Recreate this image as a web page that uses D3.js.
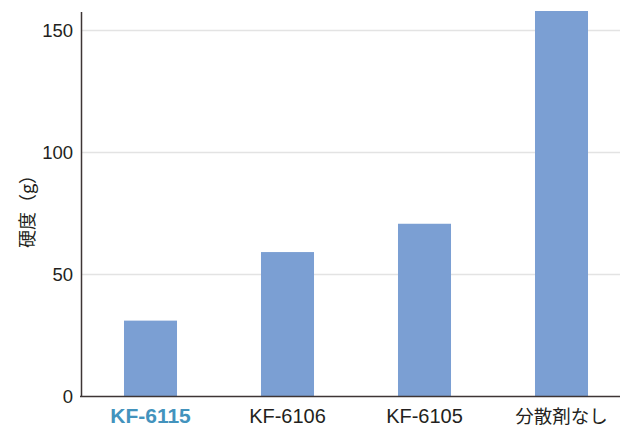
<!DOCTYPE html>
<html><head><meta charset="utf-8">
<script src="https://cdn.jsdelivr.net/npm/d3@7"></script>
<style>body{margin:0;background:#fff}svg{display:block}</style>
</head><body>
<script>
const categories = ["KF-6115", "KF-6106", "KF-6105", "分散剤なし"];
const values = [31.1, 59.2, 70.8, 158];
const yTicks = [0, 50, 100, 150];
const yLabel = "硬度（g）";

const W = 620, H = 427;
const svg = d3.select("body").append("svg").attr("width", W).attr("height", H);

const x = d3.scaleBand().domain(categories).range([82, 630]).paddingInner(0.613).paddingOuter(0.3065);
const y = d3.scaleLinear().domain([0, 158]).range([396.5, 11]);

// gridlines
svg.append("g").selectAll("line").data(yTicks.filter(d => d > 0)).join("line")
  .attr("x1", 81).attr("x2", W).attr("y1", d => y(d)).attr("y2", d => y(d))
  .attr("stroke", "#e3e3e3").attr("stroke-width", 1.5);

// bars
svg.append("g").selectAll("rect").data(values).join("rect")
  .attr("x", (d, i) => x(categories[i])).attr("width", x.bandwidth())
  .attr("y", d => y(d)).attr("height", d => y(0) - y(d))
  .attr("fill", "#7b9fd3");

// y axis
const ya = svg.append("g").attr("transform", "translate(81,0)")
  .call(d3.axisLeft(y).tickValues(yTicks).tickSize(0).tickPadding(8));
ya.select(".domain").attr("d", `M0.5,12V${y(0)}`).attr("stroke", "#3d3535").attr("stroke-width", 1.5);
ya.selectAll("text").attr("font-family", "Liberation Sans, Arial, sans-serif").attr("font-size", 18.5).attr("fill", "#231f20");

// x baseline
svg.append("line").attr("x1", 80).attr("x2", W).attr("y1", y(0)).attr("y2", y(0))
  .attr("stroke", "#3d3535").attr("stroke-width", 1.5);

// x labels
const xa = svg.append("g").attr("transform", `translate(0,${y(0)})`)
  .call(d3.axisBottom(x).tickSize(0).tickPadding(0));
xa.select(".domain").remove();
xa.selectAll("text")
  .attr("y", 26.5).attr("dy", null)
  .attr("font-family", d => /KF/.test(d) ? "Liberation Sans, Arial, sans-serif" : "Noto Sans CJK JP, sans-serif")
  .attr("font-size", d => d === categories[0] ? 21 : (/KF/.test(d) ? 20 : 18.5))
  .attr("font-weight", d => d === categories[0] ? "bold" : "normal")
  .attr("fill", d => d === categories[0] ? "#4393bd" : "#231f20");

// y label
svg.append("text").attr("transform", "translate(26,207) rotate(-90)")
  .attr("text-anchor", "middle").attr("dominant-baseline", "central")
  .attr("font-family", "Noto Sans CJK JP, sans-serif").attr("font-size", 18)
  .attr("fill", "#231f20").text(yLabel);
</script>
</body></html>
